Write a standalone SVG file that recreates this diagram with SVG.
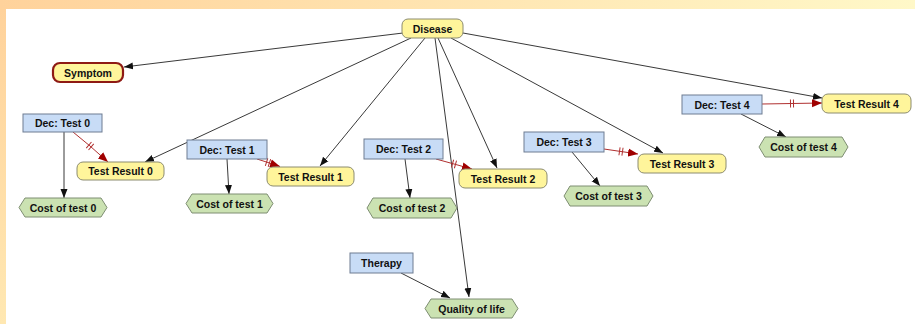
<svg xmlns="http://www.w3.org/2000/svg" width="915" height="324" viewBox="0 0 915 324">
  <defs>
    <linearGradient id="bandTop" x1="0" y1="0" x2="1" y2="0">
      <stop offset="0" stop-color="#FFD29B"/>
      <stop offset="1" stop-color="#FFF8C8"/>
    </linearGradient>
    <linearGradient id="bandLeft" x1="0" y1="0" x2="0" y2="1">
      <stop offset="0" stop-color="#FFD29B"/>
      <stop offset="1" stop-color="#FFE8B2"/>
    </linearGradient>
    <marker id="arrow" markerUnits="userSpaceOnUse" markerWidth="10" markerHeight="8" refX="9" refY="4" orient="auto">
      <path d="M0,0.5 L9,4 L0,7.5 z" fill="#111"/>
    </marker>
    <marker id="arrowRed" markerUnits="userSpaceOnUse" markerWidth="11" markerHeight="9" refX="10" refY="4.5" orient="auto">
      <path d="M0,0.5 L10,4.5 L0,8.5 z" fill="#A00000"/>
    </marker>
    <marker id="ticks" markerUnits="userSpaceOnUse" markerWidth="6" markerHeight="10" refX="2.5" refY="5" orient="auto" overflow="visible">
      <path d="M1,1 L1,9 M4,1 L4,9" stroke="#B03030" stroke-width="1" fill="none"/>
    </marker>
  </defs>
  <style>
    .chance { fill: #FFF59B; stroke: #8C8C70; stroke-width: 1; }
    .symptom { fill: #FFF59B; stroke: #8E1A14; stroke-width: 2.2; }
    .decision { fill: #C8DCF6; stroke: #6E7C92; stroke-width: 1; }
    .utility { fill: #CBE2B2; stroke: #7E8E72; stroke-width: 1; }
    text { font-family: "Liberation Sans", Arial, sans-serif; font-weight: bold; font-size: 10.5px; fill: #111; text-anchor: middle; dominant-baseline: central; }
    .edge { stroke: #222; stroke-width: 0.9; fill: none; marker-end: url(#arrow); }
    .info { stroke: #B03030; stroke-width: 1; fill: none; marker-mid: url(#ticks); marker-end: url(#arrowRed); }
  </style>

  <!-- frame bands -->
  <rect x="0" y="0" width="915" height="324" fill="#FFFFFF"/>
  <rect x="0" y="0" width="915" height="9" fill="url(#bandTop)"/>
  <rect x="0" y="9" width="6" height="315" fill="url(#bandLeft)"/>

  <!-- connectors -->
  <g id="connectors">
    <path class="edge" d="M403,33 L124,67"/>
    <path class="edge" d="M411,38 L145,162"/>
    <path class="edge" d="M425,38 L320,166"/>
    <path class="edge" d="M438,38 L497,168"/>
    <path class="edge" d="M435,38 L469,297"/>
    <path class="edge" d="M451,38 L663,153"/>
    <path class="edge" d="M463,33 L822,98"/>

    <path class="edge" d="M64,132 L64,198"/>
    <path class="edge" d="M227,159 L229,194"/>
    <path class="edge" d="M405,159 L410,198"/>
    <path class="edge" d="M572,152 L600,186"/>
    <path class="edge" d="M741,114 L786,137"/>
    <path class="edge" d="M401,273 L450,298"/>

    <path class="info" d="M73,132 L90,146 L108,162"/>
    <path class="info" d="M257,159 L268,162.5 L280,166.5"/>
    <path class="info" d="M436,159 L454,164 L472,169"/>
    <path class="info" d="M604,149 L621,151.5 L638,154"/>
    <path class="info" d="M762,104 L792,103.5 L822,103"/>
  </g>

  <g id="disease">
    <rect class="chance" x="402" y="19" width="61" height="19" rx="6"/>
    <text x="432.5" y="28.5">Disease</text>
  </g>
  <g id="symptom">
    <rect class="symptom" x="53" y="63" width="70" height="19" rx="7"/>
    <text x="88" y="72.5">Symptom</text>
  </g>

  <g id="dec-test-0">
    <rect class="decision" x="23" y="114" width="79" height="18"/>
    <text x="62.5" y="123">Dec: Test 0</text>
  </g>
  <g id="test-result-0">
    <rect class="chance" x="77" y="162" width="87" height="18" rx="6"/>
    <text x="120.5" y="171">Test Result 0</text>
  </g>
  <g id="cost-test-0">
    <polygon class="utility" points="19,207.5 25,198 101,198 107,207.5 101,217 25,217"/>
    <text x="63" y="207.5">Cost of test 0</text>
  </g>

  <g id="dec-test-1">
    <rect class="decision" x="187" y="140" width="80" height="19"/>
    <text x="227" y="149.5">Dec: Test 1</text>
  </g>
  <g id="test-result-1">
    <rect class="chance" x="267" y="167" width="87" height="19" rx="6"/>
    <text x="310.5" y="176.5">Test Result 1</text>
  </g>
  <g id="cost-test-1">
    <polygon class="utility" points="186,203.5 192,194 267,194 273,203.5 267,213 192,213"/>
    <text x="229.5" y="203.5">Cost of test 1</text>
  </g>

  <g id="dec-test-2">
    <rect class="decision" x="364" y="139" width="79" height="20"/>
    <text x="403.5" y="149">Dec: Test 2</text>
  </g>
  <g id="test-result-2">
    <rect class="chance" x="459" y="169" width="88" height="19" rx="6"/>
    <text x="503" y="178.5">Test Result 2</text>
  </g>
  <g id="cost-test-2">
    <polygon class="utility" points="367,208 373,198 451,198 457,208 451,218 373,218"/>
    <text x="412" y="208">Cost of test 2</text>
  </g>

  <g id="dec-test-3">
    <rect class="decision" x="524" y="132" width="80" height="20"/>
    <text x="564" y="142">Dec: Test 3</text>
  </g>
  <g id="test-result-3">
    <rect class="chance" x="638" y="154" width="88" height="19" rx="6"/>
    <text x="682" y="163.5">Test Result 3</text>
  </g>
  <g id="cost-test-3">
    <polygon class="utility" points="564,196 570,186 647,186 653,196 647,206 570,206"/>
    <text x="608.5" y="196">Cost of test 3</text>
  </g>

  <g id="dec-test-4">
    <rect class="decision" x="682" y="95" width="80" height="19"/>
    <text x="722" y="104.5">Dec: Test 4</text>
  </g>
  <g id="test-result-4">
    <rect class="chance" x="822" y="94" width="89" height="19" rx="6"/>
    <text x="866.5" y="103.5">Test Result 4</text>
  </g>
  <g id="cost-test-4">
    <polygon class="utility" points="759,147 765,137 842,137 848,147 842,157 765,157"/>
    <text x="803.5" y="147">Cost of test 4</text>
  </g>

  <g id="therapy">
    <rect class="decision" x="350" y="253" width="63" height="20"/>
    <text x="381.5" y="263">Therapy</text>
  </g>
  <g id="quality-of-life">
    <polygon class="utility" points="425,308.5 431,299 512,299 518,308.5 512,318 431,318"/>
    <text x="471.5" y="308.5">Quality of life</text>
  </g>
</svg>
